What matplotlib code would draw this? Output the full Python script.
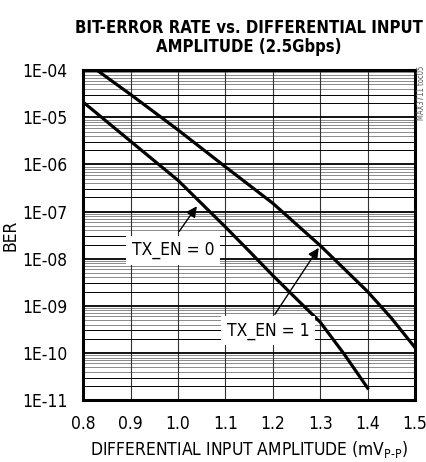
import numpy as np
import matplotlib
matplotlib.use("Agg")
import matplotlib.pyplot as plt
from matplotlib.ticker import LogLocator, NullFormatter, FixedLocator, FixedFormatter

# fonte estreita parecida com Helvetica Condensed
plt.rcParams['font.family'] = ['DejaVu Sans']
plt.rcParams['font.stretch'] = 'condensed'
plt.rcParams['mathtext.fontset'] = 'custom'
plt.rcParams['mathtext.rm'] = 'DejaVu Sans:stretch=condensed'

# dados
amp_tx0 = [0.80, 0.90, 1.00, 1.10, 1.15, 1.20, 1.25, 1.30, 1.35, 1.40]
ber_tx0 = [2.1e-5, 3.1e-6, 4.6e-7, 4.7e-8, 1.45e-8, 4.4e-9, 1.4e-9, 4.5e-10, 9.6e-11, 1.8e-11]

amp_tx1 = [0.829, 0.90, 1.00, 1.10, 1.20, 1.30, 1.40, 1.45, 1.50]
ber_tx1 = [1.0e-4, 3.05e-5, 5.4e-6, 8.9e-7, 1.5e-7, 1.9e-8, 2.0e-9, 5.5e-10, 1.3e-10]

xtick_vals = [0.8, 0.9, 1.0, 1.1, 1.2, 1.3, 1.4, 1.5]
xtick_labels = ["0.8", "0.9", "1.0", "1.1", "1.2", "1.3", "1.4", "1.5"]
ytick_vals = [1e-4, 1e-5, 1e-6, 1e-7, 1e-8, 1e-9, 1e-10, 1e-11]
ytick_labels = ["1E-04", "1E-05", "1E-06", "1E-07", "1E-08", "1E-09", "1E-10", "1E-11"]

fig = plt.figure(figsize=(4.27, 4.62), dpi=100)
ax = fig.add_axes([0.195, 0.134, 0.777, 0.714])

ax.set_yscale('log')
ax.set_xlim(0.8, 1.5)
ax.set_ylim(1e-11, 1e-4)

# grade: linhas principais pretas, 2 e 3 pretas finas, 4..9 cinzas
ax.yaxis.set_major_locator(FixedLocator(ytick_vals))
ax.yaxis.set_major_formatter(FixedFormatter(ytick_labels))
ax.yaxis.set_minor_locator(LogLocator(base=10, subs=(2.0, 3.0), numticks=20))
ax.yaxis.set_minor_formatter(NullFormatter())
ax.xaxis.set_major_locator(FixedLocator(xtick_vals))
ax.xaxis.set_major_formatter(FixedFormatter(xtick_labels))

ax.grid(True, which='major', axis='y', color='black', lw=1.3, zorder=1)
ax.grid(True, which='minor', axis='y', color='black', lw=0.7, zorder=1)
ax.grid(True, which='major', axis='x', color='#333333', lw=0.8, zorder=1)
for dec in ytick_vals[1:]:
    for s in range(4, 10):
        ax.axhline(dec * s, color='#8a8a8a', lw=0.7, zorder=1)

ax.tick_params(which='both', length=0, labelsize=12.5)
ax.tick_params(axis='y', pad=11.5)
ax.tick_params(axis='x', pad=11)
for sp in ax.spines.values():
    sp.set_linewidth(2.2)
    sp.set_zorder(5)

ax.plot(amp_tx0, ber_tx0, color='black', lw=2.3, zorder=3)
ax.plot(amp_tx1, ber_tx1, color='black', lw=2.3, zorder=3)

# rótulos com seta
box = dict(facecolor='white', edgecolor='none', pad=4)
ax.text(0.989, 1.5e-8, "TX_EN = 0", ha='center', va='center', fontsize=12.5, bbox=box, zorder=4)
ax.annotate("", xy=(1.043, 1.45e-7), xytext=(0.999, 3.4e-8),
            arrowprops=dict(arrowstyle='-|>', color='black', lw=1.0, mutation_scale=16), zorder=4)
ax.text(1.19, 2.95e-10, "TX_EN = 1", ha='center', va='center', fontsize=12.5, bbox=box, zorder=4)
ax.annotate("", xy=(1.30, 1.9e-8), xytext=(1.201, 5.9e-10),
            arrowprops=dict(arrowstyle='-|>', color='black', lw=1.0, mutation_scale=16), zorder=4)

ax.set_title("BIT-ERROR RATE vs. DIFFERENTIAL INPUT\nAMPLITUDE (2.5Gbps)",
             fontsize=12.0, fontweight='bold', linespacing=1.1, pad=13)
ax.set_xlabel("DIFFERENTIAL INPUT AMPLITUDE (mV$_{\\mathrm{P\\text{-}P}}$)", fontsize=12.5, labelpad=4)
ax.set_ylabel("BER", fontsize=12.5, labelpad=2)

fig.text(0.988, 0.80, "MAX3711 toc05", rotation=90, fontsize=5.5, color='#555555',
         ha='center', va='center')

fig.savefig("out.png", dpi=100)
